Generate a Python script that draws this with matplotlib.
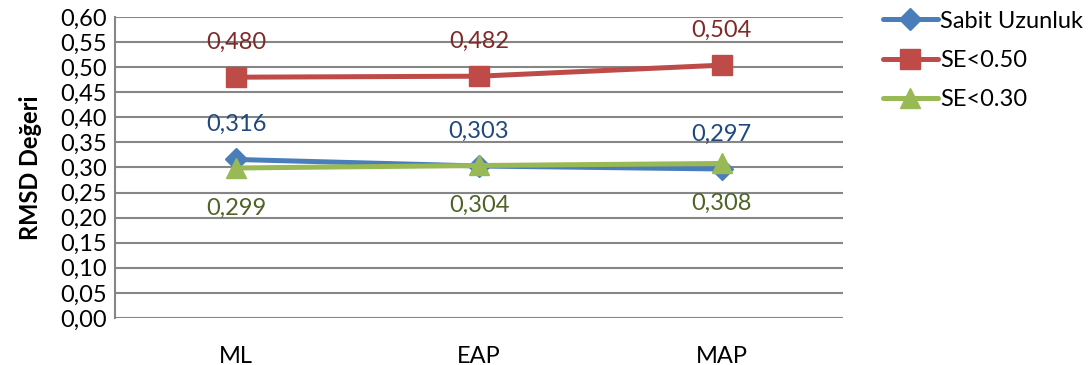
import matplotlib.pyplot as plt
from matplotlib.ticker import MultipleLocator, FuncFormatter

plt.rcParams['font.family'] = ['Lato', 'DejaVu Sans']

methods = ['ML', 'EAP', 'MAP']
sabit = [0.316, 0.303, 0.297]
se050 = [0.480, 0.482, 0.504]
se030 = [0.299, 0.304, 0.308]

series = [
    ('Sabit Uzunluk', sabit, '#4a7ebb', '#1f497d', 'D', 11, 35),
    ('SE<0.50', se050, '#be4b48', '#7f2a28', 's', 14, 35),
    ('SE<0.30', se030, '#98b954', '#4f6228', '^', 14, -40),
]

fs = 17

fig = plt.figure(figsize=(10.88, 3.65), dpi=100)
ax = fig.add_axes([115 / 1088, 1 - 318 / 365, 728 / 1088, 301 / 365])

x = list(range(len(methods)))
for name, vals, col, lab_col, mk, ms, off in series:
    ax.plot(x, vals, color=col, lw=3.6, marker=mk, ms=ms, label=name,
            solid_capstyle='round')
    for xi, v in zip(x, vals):
        ax.annotate(f'{v:.3f}'.replace('.', ','), (xi, v), xytext=(0, off),
                    textcoords='offset pixels', ha='center', va='center',
                    fontsize=fs, color=lab_col)

ax.set_xlim(-0.5, 2.5)
ax.set_ylim(0, 0.6)
ax.yaxis.set_major_locator(MultipleLocator(0.05))
ax.yaxis.set_major_formatter(FuncFormatter(lambda v, p: f'{v:.2f}'.replace('.', ',')))
ax.set_xticks(x)
ax.set_xticklabels(methods)
ax.tick_params(axis='both', labelsize=fs, length=0, colors='black')
ax.tick_params(axis='x', pad=20)
ax.tick_params(axis='y', pad=6)
ax.grid(axis='y', color='#868686', lw=1.5)
ax.set_axisbelow(True)
for s in ['top', 'right', 'bottom']:
    ax.spines[s].set_visible(False)
ax.spines['left'].set_color('#868686')
ax.spines['left'].set_linewidth(1.5)

ax.set_ylabel('RMSD Değeri', fontsize=fs, fontweight='bold', labelpad=13)

ax.legend(loc='upper left', bbox_to_anchor=(872 / 1088, 1.0), bbox_transform=fig.transFigure,
          frameon=False, fontsize=fs, handlelength=2.35, handletextpad=0.1,
          labelspacing=0.78, borderaxespad=0.45, borderpad=0)

fig.savefig('out.png', dpi=100)
